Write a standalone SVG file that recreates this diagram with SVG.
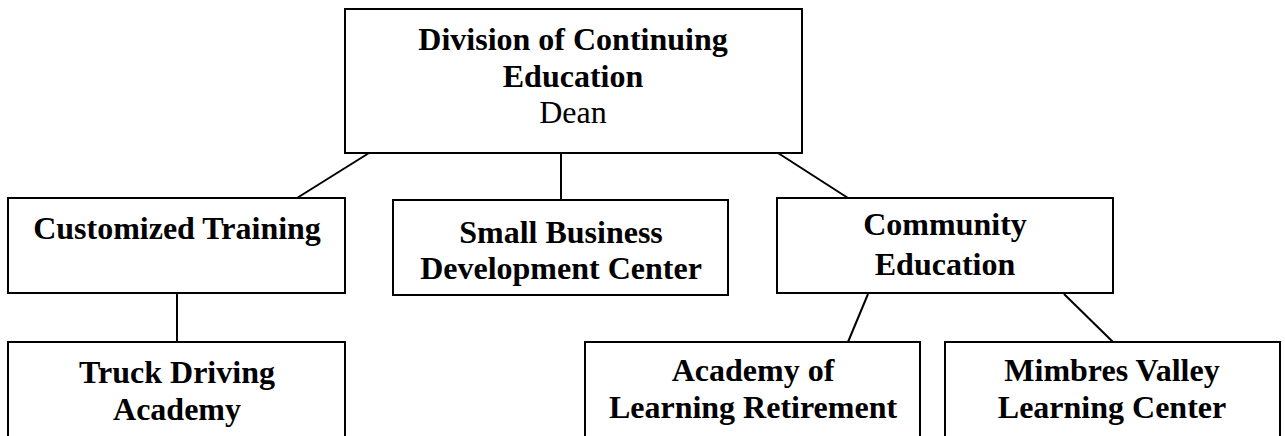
<svg xmlns="http://www.w3.org/2000/svg" width="1285" height="436" viewBox="0 0 1285 436">
<style>
.box{fill:#fff;stroke:#000;stroke-width:2}
.t{font-family:"Liberation Serif","Times New Roman",serif;font-size:32px;font-weight:bold;text-anchor:middle;fill:#000}
.r{font-weight:normal}
.c{stroke:#000;stroke-width:2;fill:none}
</style>
<rect width="1285" height="436" fill="#fff"/>
<g id="connectors">
<line class="c" x1="369" y1="153" x2="297" y2="198"/>
<line class="c" x1="561" y1="153" x2="561" y2="200"/>
<line class="c" x1="778" y1="153" x2="848" y2="198"/>
<line class="c" x1="177" y1="293" x2="177" y2="342"/>
<line class="c" x1="868" y1="294" x2="848" y2="342"/>
<line class="c" x1="1064" y1="294" x2="1113" y2="342"/>
</g>
<g id="dean">
<rect class="box" x="345" y="9" width="457" height="144"/>
<text class="t" x="573" y="50">Division of Continuing</text>
<text class="t" x="573" y="86.5">Education</text>
<text class="t r" x="573" y="123">Dean</text>
</g>
<g id="customized">
<rect class="box" x="8" y="198" width="337" height="95"/>
<text class="t" x="177" y="239">Customized Training</text>
</g>
<g id="sbdc">
<rect class="box" x="393" y="200" width="335" height="95"/>
<text class="t" x="561" y="243">Small Business</text>
<text class="t" x="561" y="279">Development Center</text>
</g>
<g id="community">
<rect class="box" x="777" y="198" width="336" height="95"/>
<text class="t" x="945" y="235">Community</text>
<text class="t" x="945" y="275">Education</text>
</g>
<g id="truck">
<rect class="box" x="8" y="342" width="337" height="110"/>
<text class="t" x="177" y="383">Truck Driving</text>
<text class="t" x="177" y="420">Academy</text>
</g>
<g id="academy">
<rect class="box" x="585" y="342" width="335" height="110"/>
<text class="t" x="753" y="381">Academy of</text>
<text class="t" x="753" y="418">Learning Retirement</text>
</g>
<g id="mimbres">
<rect class="box" x="945" y="342" width="335" height="110"/>
<text class="t" x="1112" y="381">Mimbres Valley</text>
<text class="t" x="1112" y="418">Learning Center</text>
</g>
</svg>
